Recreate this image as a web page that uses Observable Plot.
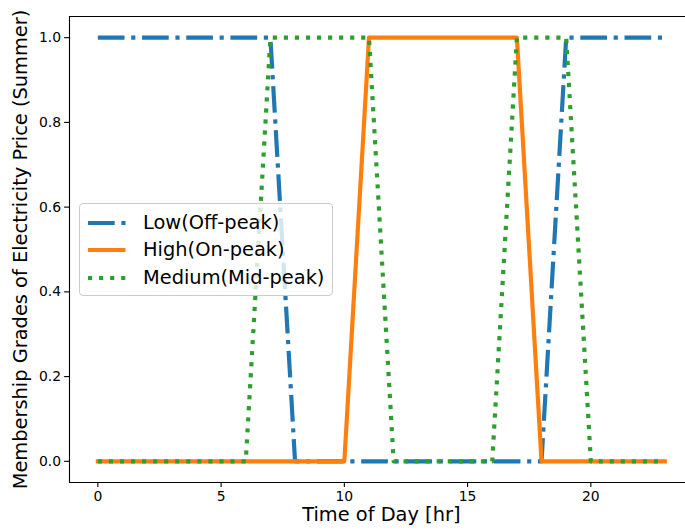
<!DOCTYPE html>
<html>
<head>
<meta charset="utf-8">
<script src="https://cdn.jsdelivr.net/npm/d3@7"></script>
<script src="https://cdn.jsdelivr.net/npm/@observablehq/plot@0.6"></script>
<style>
  html, body { margin: 0; padding: 0; background: #fff; }
  #wrap { position: relative; width: 685px; height: 531px; font-family: "DejaVu Sans", sans-serif; }
  #legend { position: absolute; left: 79px; top: 203px; width: 252px; height: 91px;
    border: 1px solid #cccccc; border-radius: 4px; background: rgba(255,255,255,0.8); }
  .row { position: absolute; left: 0; height: 24px; display: flex; align-items: center; }
  .row svg { position: absolute; left: 7px; }
  .row span { position: absolute; left: 63px; white-space: nowrap; font-size: 19.4px; color: #000; line-height: 24px; }
</style>
</head>
<body>
<div id="wrap"></div>
<script>
const hours = [0,1,2,3,4,5,6,7,8,9,10,11,12,13,14,15,16,17,18,19,20,21,22,23];
const lowValues    = [1,1,1,1,1,1,1,1,0,0,0,0,0,0,0,0,0,0,0,1,1,1,1,1];
const highValues   = [0,0,0,0,0,0,0,0,0,0,0,1,1,1,1,1,1,1,0,0,0,0,0,0];
const mediumValues = [0,0,0,0,0,0,0,1,1,1,1,1,0,0,0,0,0,1,1,1,0,0,0,0];
const seriesNames = ["Low(Off-peak)", "High(On-peak)", "Medium(Mid-peak)"];
const xTicks = [0, 5, 10, 15, 20];
const yTicks = [0, 0.2, 0.4, 0.6, 0.8, 1.0];
const xLabel = "Time of Day [hr]";
const yLabel = "Membership Grades of Electricity Price (Summer)";

const lw = 4.17;
const styles = [
  {color: "#1f77b4", dash: `${6.4*lw},${1.6*lw},${1*lw},${1.6*lw}`, cap: "butt"},
  {color: "#ff7f0e", dash: null, cap: "square"},
  {color: "#2ca02c", dash: `${1*lw},${1.65*lw}`, cap: "butt"}
];
const allValues = [lowValues, highValues, mediumValues];
const series = allValues.map((vals, i) => hours.map((h, j) => ({x: h, y: vals[j], s: seriesNames[i]})));

const xDomain = [-1.15, 23.84];
const yDomain = [-0.05, 1.05];

const lineMarks = series.map((d, i) => Plot.line(d, {
  x: "x", y: "y", stroke: styles[i].color, strokeWidth: lw,
  strokeDasharray: styles[i].dash, strokeLinecap: styles[i].cap, strokeLinejoin: "round"
}));

const chart = Plot.plot({
  width: 685, height: 531,
  marginLeft: 69, marginRight: 0, marginTop: 16, marginBottom: 49,
  style: {fontFamily: "DejaVu Sans, sans-serif", fontSize: "13.9px", color: "#000", background: "#fff", overflow: "visible"},
  x: {domain: xDomain},
  y: {domain: yDomain},
  marks: [
    ...lineMarks,
    Plot.ruleX([xDomain[0]], {stroke: "#000", strokeWidth: 1.11}),
    Plot.ruleY([yDomain[0], yDomain[1]], {stroke: "#000", strokeWidth: 1.11}),
    Plot.axisX({ticks: xTicks, tickSize: 4.9, tickPadding: 3.5, strokeWidth: 1.11, fontSize: 13.9, label: null}),
    Plot.axisY({ticks: yTicks, tickSize: 4.9, tickPadding: 3.5, strokeWidth: 1.11, fontSize: 13.9, tickFormat: d3.format(".1f"), label: null}),
    Plot.text([xLabel], {x: () => 11.5, frameAnchor: "bottom", dy: 38, text: d => d, fontSize: 19.4, fill: "#000"}),
    Plot.text([yLabel], {y: () => 0.5, frameAnchor: "left", dx: -49, rotate: -90, textAnchor: "middle", text: d => d, fontSize: 19.4, fill: "#000"})
  ]
});

const wrap = document.getElementById("wrap");
wrap.appendChild(chart);

const legend = document.createElement("div");
legend.id = "legend";
const rowCenters = [18.5, 46, 74];
seriesNames.forEach((name, i) => {
  const row = document.createElement("div");
  row.className = "row";
  row.style.top = (rowCenters[i] - 12) + "px";
  const st = styles[i];
  row.innerHTML = `<svg width="40" height="24" style="top:0"><line x1="1" x2="38.5" y1="12" y2="12" stroke="${st.color}" stroke-width="${lw}" ${st.dash ? `stroke-dasharray="${st.dash}"` : ""} stroke-linecap="${st.cap === 'square' ? 'butt' : st.cap}"/></svg><span>${name}</span>`;
  legend.appendChild(row);
});
wrap.appendChild(legend);
</script>
</body>
</html>
